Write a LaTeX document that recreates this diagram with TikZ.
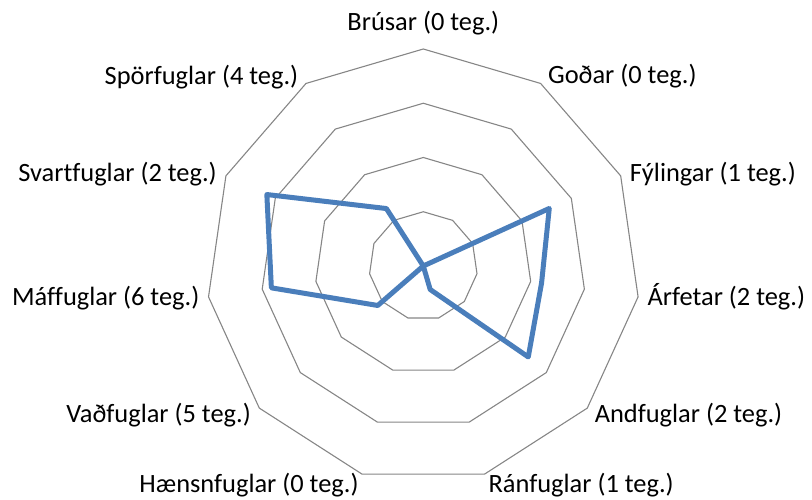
\documentclass[tikz,border=0pt]{standalone}
\usepackage{fontspec}
\setmainfont{Carlito}[Ligatures=NoCommon]
\usetikzlibrary{shapes.geometric}
\definecolor{ringgray}{HTML}{868686}
\definecolor{seriesblue}{HTML}{4A7EBB}
\begin{document}
\begin{tikzpicture}[x=1pt,y=1pt, font=\fontsize{26.4}{32}\selectfont, line join=round, line cap=round,
  ring/.style={draw=ringgray, line width=1.1pt, regular polygon, regular polygon sides=11, inner sep=0pt, outer sep=0pt},
  lbl/.style={inner sep=0pt}]
\useasboundingbox (-423.3,-234) rectangle (388.7,266);
\node[ring, minimum size=108.5pt] (ring1) at (0,0) {};
\node[ring, minimum size=217pt] (ring2) at (0,0) {};
\node[ring, minimum size=325.5pt] (ring3) at (0,0) {};
\node[ring, minimum size=434pt] (ring4) at (0,0) {};
\draw[seriesblue, line width=5pt] (90:0) -- (57.27:0) -- (24.55:138.5) -- (-8.18:119.5) -- (-40.91:138.9) -- (-73.64:24.5) -- (-106.36:0) -- (-139.09:60.3) -- (-171.82:153.5) -- (155.45:172) -- (122.73:68.3) -- cycle;
\node[lbl, anchor=base] (brusar) at ([yshift=18pt]ring4.corner 1) {Brúsar (0 teg.)};
\node[lbl, anchor=base east] (sporfuglar) at ([xshift=-7.6pt,yshift=-1pt]ring4.corner 2) {Spörfuglar (4 teg.)};
\node[lbl, anchor=base east] (svartfuglar) at ([xshift=-9pt,yshift=-6pt]ring4.corner 3) {Svartfuglar (2 teg.)};
\node[lbl, anchor=base east] (maffuglar) at ([xshift=-9pt,yshift=-8.3pt]ring4.corner 4) {Máffuglar (6 teg.)};
\node[lbl, anchor=base east] (vadfuglar) at ([xshift=-8.3pt,yshift=-14.4pt]ring4.corner 5) {Vaðfuglar (5 teg.)};
\node[lbl, anchor=base east] (haensnfuglar) at ([xshift=-3.4pt,yshift=-18.2pt]ring4.corner 6) {Hænsnfuglar (0 teg.)};
\node[lbl, anchor=base west] (ranfuglar) at ([xshift=4pt,yshift=-18.2pt]ring4.corner 7) {Ránfuglar (1 teg.)};
\node[lbl, anchor=base west] (andfuglar) at ([xshift=7.3pt,yshift=-14.4pt]ring4.corner 8) {Andfuglar (2 teg.)};
\node[lbl, anchor=base west] (arfetar) at ([xshift=9.4pt,yshift=-8.3pt]ring4.corner 9) {Árfetar (2 teg.)};
\node[lbl, anchor=base west] (fylingar) at ([xshift=9pt,yshift=-6pt]ring4.corner 10) {Fýlingar (1 teg.)};
\node[lbl, anchor=base west] (godar) at ([xshift=7.3pt]ring4.corner 11) {Goðar (0 teg.)};
\end{tikzpicture}
\end{document}
